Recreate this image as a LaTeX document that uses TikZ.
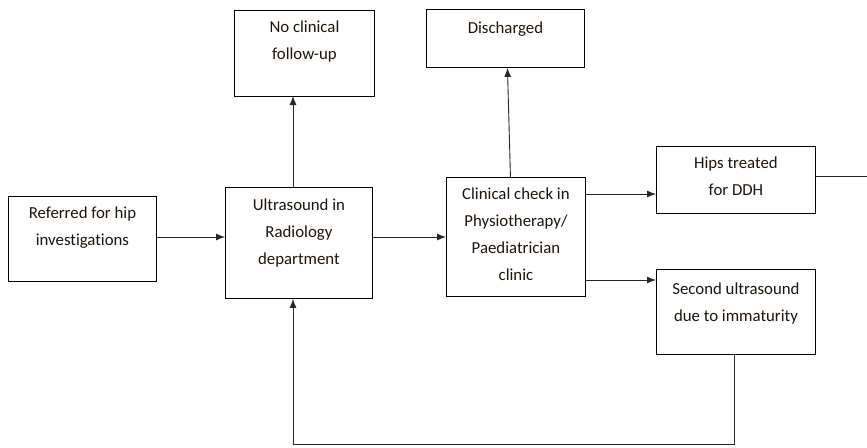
\documentclass[tikz,border=0pt]{standalone}
\usepackage{fontspec}
\setmainfont{Carlito}[Ligatures=NoCommon]
\usetikzlibrary{arrows.meta}
\begin{document}
\begin{tikzpicture}[x=1pt,y=-1pt,
  box/.style={draw=black, line width=0.9pt, inner sep=0pt, anchor=north west},
  lbl/.style={anchor=north, inner sep=0pt, align=center, text=black!85!brown, font={\fontsize{16.8}{27}\selectfont}},
  conn/.style={line width=0.9pt, draw=black!85},
  arr/.style={conn, -{Latex[length=9pt,width=7pt]}}]
\useasboundingbox (0,0) rectangle (867,447);
\node[box, minimum width=148pt, minimum height=85pt,
  label={[lbl, yshift=-11pt]north:Referred for hip\\investigations}] (ref) at (8,196) {};
\node[box, minimum width=147pt, minimum height=111pt,
  label={[lbl, yshift=-12pt]north:Ultrasound in\\Radiology\\department}] (us) at (225,187) {};
\node[box, minimum width=140pt, minimum height=86pt,
  label={[lbl, yshift=-11pt]north:No clinical\\follow-up}] (nc) at (234,10) {};
\node[box, minimum width=158pt, minimum height=58pt,
  label={[lbl, yshift=-13pt]north:Discharged}] (dis) at (426,9) {};
\node[box, minimum width=139pt, minimum height=119pt,
  label={[lbl, yshift=-11pt]north:Clinical check in\\Physiotherapy/\\Paediatrician\\clinic}] (clin) at (446,177) {};
\node[box, minimum width=159pt, minimum height=67pt,
  label={[lbl, yshift=-11pt]north:Hips treated\\for DDH}] (hips) at (656,146) {};
\node[box, minimum width=159pt, minimum height=85pt,
  label={[lbl, yshift=-14pt]north:Second ultrasound\\due to immaturity}] (sec) at (656,269) {};
\coordinate (edge) at (867,176);
\coordinate (lc) at (734,444);
\coordinate (rc) at (293,444);
\draw[arr] (ref.east |- 0,237) -- (us.west |- 0,237);
\draw[arr] (us.east |- 0,237) -- (clin.west |- 0,237);
\draw[arr] (293,187) -- (293,96);
\draw[arr] ([xshift=-5.5pt]clin.north) -- ([xshift=2pt]dis.south);
\draw[arr] (clin.east |- 0,194) -- (hips.west |- 0,194);
\draw[arr] (clin.east |- 0,280) -- (sec.west |- 0,280);
\draw[conn] (hips.east |- edge) -- (edge);
\draw[arr] (lc |- sec.south) -- (lc) -- (rc) -- (rc |- us.south);
\end{tikzpicture}
\end{document}
